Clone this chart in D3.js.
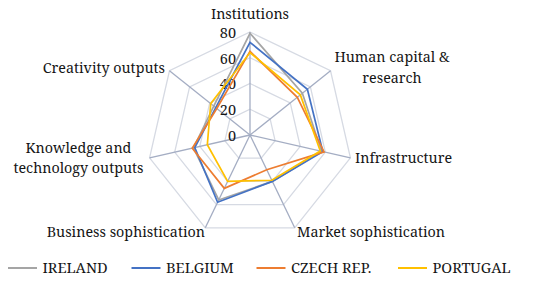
<!DOCTYPE html>
<html><head><meta charset="utf-8">
<script src="https://cdn.jsdelivr.net/npm/d3@7"></script>
<style>
html,body{margin:0;padding:0;background:#fff;}
svg{display:block;}
</style></head>
<body>
<svg id="chart" width="550" height="281" font-family="'Noto Serif', 'Liberation Serif', serif"></svg>
<script>
const axesLabels = ["Institutions","Human capital & research","Infrastructure","Market sophistication","Business sophistication","Knowledge and technology outputs","Creativity outputs"];
const seriesNames = ["IRELAND","BELGIUM","CZECH REP.","PORTUGAL"];
const seriesColors = ["#a5a5a5","#4472c4","#ed7d31","#ffc000"];
const ireland  = [79, 52, 57, 40, 56, 45, 36];
const belgium  = [72, 57, 58, 40, 58, 44, 34];
const czech    = [65, 47, 59, 30, 46, 46, 33];
const portugal = [64, 50, 56, 39, 40, 34, 39];
const tickValues = [0, 20, 40, 60, 80];

const seriesData = [ireland, belgium, czech, portugal];
const svg = d3.select("#chart");
const cx = 250, cy = 135, R = 103;
const r = d3.scaleLinear().domain([0, 80]).range([0, R]);
const n = axesLabels.length;
const ang = d3.scaleLinear().domain([0, n]).range([0, 2 * Math.PI]);
const pt = (i, v) => [cx + r(v) * Math.sin(ang(i)), cy - r(v) * Math.cos(ang(i))];
const FONT = "'Noto Serif', 'Liberation Serif', serif";
const TXT = "#151515";

const g = svg.append("g");
tickValues.filter(t => t > 0).forEach(t => {
  g.append("polygon")
    .attr("points", d3.range(n).map(i => pt(i, t).join(",")).join(" "))
    .attr("fill", "none").attr("stroke", "#d6dae3").attr("stroke-width", 1.3);
});
d3.range(n).forEach(i => {
  const p = pt(i, 80);
  g.append("line").attr("x1", cx).attr("y1", cy).attr("x2", p[0]).attr("y2", p[1])
    .attr("stroke", "#a4adc3").attr("stroke-width", 1.3);
});
tickValues.forEach(t => {
  g.append("text").attr("x", cx - 14).attr("y", cy - r(t) + 0.8).attr("dy", "0.35em")
    .attr("text-anchor", "end").attr("font-size", 14.5).attr("font-family", FONT)
    .attr("fill", TXT).text(t);
});
const line = d3.line().curve(d3.curveLinearClosed);
seriesData.forEach((s, k) => {
  g.append("path").attr("d", line(s.map((v, i) => pt(i, v))))
    .attr("fill", "none").attr("stroke", seriesColors[k]).attr("stroke-width", 1.7)
    .attr("stroke-linejoin", "miter");
});
const labelSpecs = [
  {lines:["Institutions"], x:250, y:19, anchor:"middle"},
  {lines:["Human capital &","research"], x:392, y:62, anchor:"middle"},
  {lines:["Infrastructure"], x:355, y:163, anchor:"start"},
  {lines:["Market sophistication"], x:297, y:237, anchor:"start"},
  {lines:["Business sophistication"], x:205, y:237, anchor:"end"},
  {lines:["Knowledge and","technology outputs"], x:78.5, y:152.5, anchor:"middle"},
  {lines:["Creativity outputs"], x:165, y:73, anchor:"end"}
];
labelSpecs.forEach(ls => {
  const t = g.append("text").attr("x", ls.x).attr("y", ls.y).attr("text-anchor", ls.anchor)
    .attr("font-size", 14.3).attr("font-family", FONT).attr("fill", TXT);
  ls.lines.forEach((l, j) => t.append("tspan").attr("x", ls.x).attr("dy", j === 0 ? 0 : 20.7).text(l));
});
const legX = [8, 131.5, 256.5, 398];
const leg = svg.append("g");
seriesNames.forEach((nm, k) => {
  leg.append("line").attr("x1", legX[k]).attr("x2", legX[k] + 29).attr("y1", 268).attr("y2", 268)
    .attr("stroke", seriesColors[k]).attr("stroke-width", 2);
  leg.append("text").attr("x", legX[k] + 34.5).attr("y", 268).attr("dy", "0.35em")
    .attr("font-size", 14.6).attr("font-family", FONT).attr("fill", TXT).text(nm);
});
</script>
</body></html>
